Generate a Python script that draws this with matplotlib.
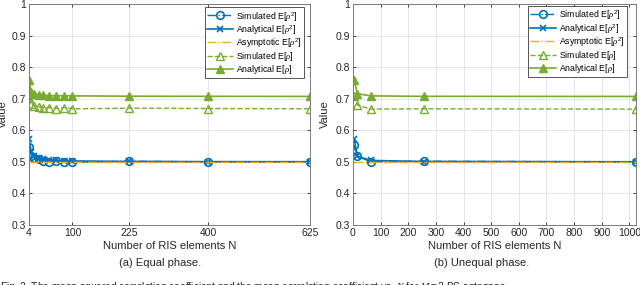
import matplotlib
matplotlib.use("Agg")
import matplotlib.pyplot as plt

plt.rcParams['font.family'] = ['Liberation Sans', 'DejaVu Sans']
plt.rcParams['mathtext.fontset'] = 'custom'
plt.rcParams['mathtext.it'] = 'Liberation Serif:italic'
plt.rcParams['mathtext.rm'] = 'Liberation Sans'

# ---- data: (a) equal phase ----
N_a = [4, 9, 16, 25, 36, 49, 64, 81, 100, 225, 400, 625]
sim_rho2_a = [0.548, 0.520, 0.512, 0.508, 0.504, 0.501, 0.503, 0.500, 0.498, 0.502, 0.500, 0.500]
ana_rho2_a = [0.572, 0.532, 0.518, 0.512, 0.508, 0.506, 0.5045, 0.5036, 0.503, 0.5013, 0.5007, 0.5005]
asy_rho2_a = [0.5] * len(N_a)
sim_rho_a = [0.702, 0.683, 0.678, 0.675, 0.671, 0.672, 0.669, 0.672, 0.668, 0.670, 0.669, 0.668]
ana_rho_a = [0.759, 0.722, 0.716, 0.713, 0.711, 0.710, 0.709, 0.709, 0.709, 0.708, 0.7075, 0.7073]
xticks_a = [4, 100, 225, 400, 625]

# ---- data: (b) unequal phase ----
N_b = [4, 16, 64, 256, 1024]
sim_rho2_b = [0.553, 0.518, 0.500, 0.502, 0.500]
ana_rho2_b = [0.572, 0.518, 0.5045, 0.5011, 0.5003]
asy_rho2_b = [0.5] * len(N_b)
sim_rho_b = [0.708, 0.680, 0.667, 0.668, 0.667]
ana_rho_b = [0.759, 0.716, 0.709, 0.7075, 0.7072]
xticks_b = [0, 100, 200, 300, 400, 500, 600, 700, 800, 900, 1000]

yticks = [0.3, 0.4, 0.5, 0.6, 0.7, 0.8, 0.9, 1.0]
ytick_labels = ['0.3', '0.4', '0.5', '0.6', '0.7', '0.8', '0.9', '1']

BLUE = '#0072BD'
ORANGE = '#EDB120'
GREEN = '#77AC30'
TXT = '#262626'

fig = plt.figure(figsize=(6.4, 2.85), dpi=100)


def panel(rect, N, s2, a2, as2, s1, a1, xlim, xticks, legpos, ylab_x):
    ax = fig.add_axes(rect)
    ax.plot(N, s2, linestyle='-.', color=BLUE, marker='o', mfc='none', ms=5.5, mew=1.2, lw=1.0,
            label=r'Simulated E[$\rho^2$]')
    ax.plot(N, a2, linestyle='-', color=BLUE, marker='x', ms=4, mew=1.2, lw=1.2,
            label=r'Analytical E[$\rho^2$]')
    ax.plot(N, as2, linestyle='-.', color=ORANGE, lw=1.0, label=r'Asymptotic E[$\rho^2$]')
    ax.plot(N, s1, linestyle='--', color=GREEN, marker='^', mfc='none', ms=6, mew=1.0, lw=1.0,
            label=r'Simulated E[$\rho$]')
    ax.plot(N, a1, linestyle='-', color=GREEN, marker='^', mfc=GREEN, ms=6, mew=1.0, lw=1.2,
            label=r'Analytical E[$\rho$]')
    ax.set_xlim(*xlim)
    ax.set_ylim(0.3, 1.0)
    ax.set_xticks(xticks)
    ax.set_yticks(yticks)
    ax.set_yticklabels(ytick_labels)
    ax.grid(True, color='#e6e6e6', lw=0.7)
    ax.set_axisbelow(True)
    ax.tick_params(direction='in', length=2.5, labelsize=7.5, colors=TXT, width=0.6,
                   top=True, right=True, pad=2)
    for sp in ax.spines.values():
        sp.set_color('#7a7a7a')
        sp.set_linewidth(0.7)
    ax.set_xlabel('Number of RIS elements N', fontsize=8, color=TXT, labelpad=2)
    ax.set_ylabel('Value', fontsize=8, color=TXT)
    ax.yaxis.set_label_coords(ylab_x, 0.5)
    leg = ax.legend(loc='upper right', bbox_to_anchor=legpos, fontsize=6.3, handlelength=3.0,
                    handletextpad=0.3, borderpad=0.25, labelspacing=0.05, fancybox=False,
                    framealpha=1, edgecolor='#3a3a3a', borderaxespad=0)
    leg.get_frame().set_linewidth(0.6)
    return ax


axa = panel([29 / 640, 1 - 225 / 285, 281 / 640, 221 / 285], N_a, sim_rho2_a, ana_rho2_a, asy_rho2_a,
            sim_rho_a, ana_rho_a, (4, 625), xticks_a, (0.978, 0.985), -0.075)
axb = panel([353 / 640, 1 - 225 / 285, 283 / 640, 221 / 285], N_b, sim_rho2_b, ana_rho2_b, asy_rho2_b,
            sim_rho_b, ana_rho_b, (0, 1024), xticks_b, (0.967, 0.99), -0.082)

fig.text(160 / 640, 1 - 263 / 285, '(a) Equal phase.', ha='center', va='center', fontsize=8, color=TXT)
fig.text(482 / 640, 1 - 263 / 285, '(b) Unequal phase.', ha='center', va='center', fontsize=8, color=TXT)
fig.text(0, 1 - 287 / 285,
         'Fig. 2. The mean squared correlation coefficient and the mean correlation coefficient vs. '
         r'$N$ for $M=2$ BS antennas.',
         ha='left', va='center', fontsize=7.3, color=TXT)

fig.savefig('out.png', dpi=100)
